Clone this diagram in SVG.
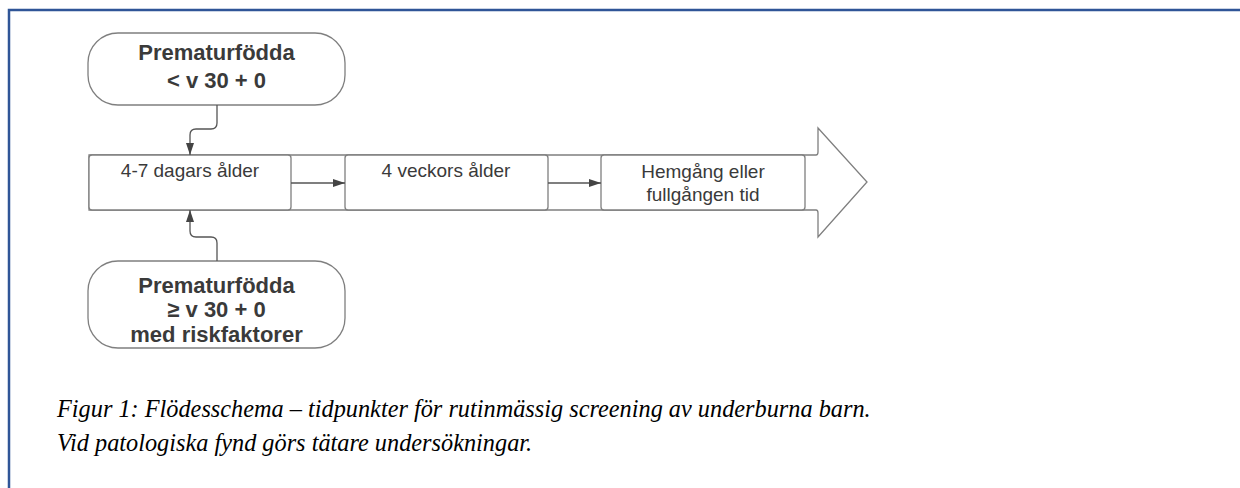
<svg xmlns="http://www.w3.org/2000/svg" width="1240" height="488" viewBox="0 0 1240 488">
<style>
.node{fill:#fff;stroke:#7f7f7f;stroke-width:1.3}
.bold{font-family:"Liberation Sans",Arial,sans-serif;font-weight:bold;font-size:22px;fill:#3a3a3a;text-anchor:middle}
.reg{font-family:"Liberation Sans",Arial,sans-serif;font-size:19px;fill:#3a3a3a;text-anchor:middle}
.cap{font-family:"Liberation Serif","Times New Roman",serif;font-style:italic;font-size:24.3px;fill:#000}
.conn{fill:none;stroke:#555;stroke-width:1.3}
</style>
<defs>
<marker id="ah" viewBox="0 0 12 10" refX="12" refY="5" markerWidth="12" markerHeight="10" markerUnits="userSpaceOnUse" orient="auto">
<path d="M0,1 L12,5 L0,9 Z" fill="#444"/>
</marker>
</defs>
<rect width="1240" height="488" fill="#fff"/>
<path d="M9,488 V10 H1240" fill="none" stroke="#2f5597" stroke-width="2.5"/>
<g id="bigArrow">
<path d="M89,155 H816 Q818,155 818,152 V128 L867,182 L818,237 V213 Q818,210 816,210 H89 Z" class="node"/>
</g>
<g id="nodeTop">
<rect x="88" y="33" width="257" height="72" rx="30" class="node"/>
<text class="bold" x="216.5" y="60">Prematurfödda</text>
<text class="bold" x="216.5" y="88">&lt; v 30 + 0</text>
</g>
<g id="box1">
<rect x="89" y="155" width="202" height="55" rx="3" class="node"/>
<text class="reg" x="190" y="177">4-7 dagars ålder</text>
</g>
<g id="box2">
<rect x="345" y="155" width="203" height="55" rx="3" class="node"/>
<text class="reg" x="446" y="177">4 veckors ålder</text>
</g>
<g id="box3">
<rect x="601" y="155" width="204" height="55" rx="3" class="node"/>
<text class="reg" x="703" y="178">Hemgång eller</text>
<text class="reg" x="703" y="201">fullgången tid</text>
</g>
<g id="nodeBottom">
<rect x="88" y="261" width="257" height="87" rx="30" class="node"/>
<text class="bold" x="216.5" y="293">Prematurfödda</text>
<text class="bold" x="216.5" y="317">≥ v 30 + 0</text>
<text class="bold" x="216.5" y="342">med riskfaktorer</text>
</g>
<g id="connectors">
<path class="conn" d="M217,105 V123 Q217,129 211,129 H196 Q190,129 190,135 V155" marker-end="url(#ah)"/>
<path class="conn" d="M217,261 V243 Q217,237 211,237 H196 Q190,237 190,231 V210" marker-end="url(#ah)"/>
<path class="conn" d="M291,183 H345" marker-end="url(#ah)"/>
<path class="conn" d="M548,183 H601" marker-end="url(#ah)"/>
</g>
<g id="caption">
<text class="cap" x="57" y="417">Figur 1: Flödesschema – tidpunkter för rutinmässig screening av underburna barn.</text>
<text class="cap" x="57" y="451">Vid patologiska fynd görs tätare undersökningar.</text>
</g>
</svg>
